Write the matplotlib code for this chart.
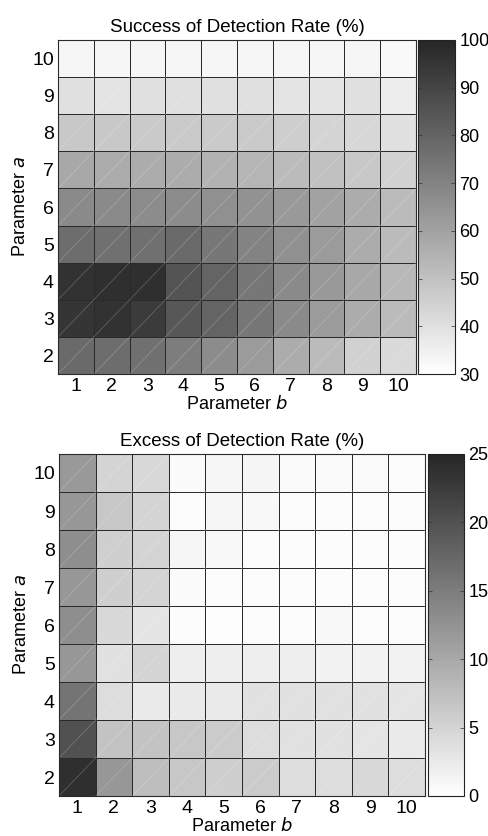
import numpy as np
import matplotlib
matplotlib.use("Agg")
import matplotlib.pyplot as plt
from matplotlib.colors import LinearSegmentedColormap

plt.rcParams['font.family'] = ['Liberation Sans', 'DejaVu Sans']

b_vals = [1, 2, 3, 4, 5, 6, 7, 8, 9, 10]
a_vals = [2, 3, 4, 5, 6, 7, 8, 9, 10]

# rows: a = 2 .. 10, columns: b = 1 .. 10
success = [
    [78, 77, 76, 72, 67, 62, 57, 52, 45, 42],   # a=2
    [95, 96, 93, 84, 80, 74, 68, 62, 57, 52],   # a=3
    [96, 97, 97, 85, 80, 74, 68, 63, 58, 53],   # a=4
    [77, 76, 76, 78, 74, 70, 66, 62, 57, 52],   # a=5
    [68, 68, 67, 67, 66, 65, 63, 60, 57, 52],   # a=6
    [58, 57, 57, 57, 55, 54, 52, 50, 48, 45],   # a=7
    [48, 48, 47, 47, 47, 47, 46, 44, 43, 40],   # a=8
    [40, 39, 40, 40, 40, 40, 39, 39, 40, 36],   # a=9
    [33, 33, 33, 33, 33, 33, 33, 33, 33, 32],   # a=10
]
excess = [
    [24.0, 12.0, 7.5, 6.5, 5.5, 6.0, 4.0, 4.0, 4.5, 4.0],  # a=2
    [20.0, 7.0, 7.0, 6.5, 6.0, 4.0, 3.5, 3.5, 3.0, 2.5],   # a=3
    [16.0, 4.0, 2.5, 2.5, 2.5, 3.5, 3.5, 3.5, 3.5, 3.0],   # a=4
    [12.0, 3.5, 5.0, 2.0, 2.0, 2.0, 2.0, 1.5, 1.5, 1.5],   # a=5
    [13.0, 4.5, 3.0, 0.3, 0.2, 0.3, 0.3, 0.8, 0.3, 0.3],   # a=6
    [12.0, 5.5, 5.0, 0.5, 0.3, 0.3, 0.3, 0.3, 0.3, 0.3],   # a=7
    [13.0, 5.5, 5.0, 1.0, 0.8, 0.3, 0.3, 0.3, 0.3, 0.3],   # a=8
    [12.0, 6.5, 5.0, 0.3, 1.0, 0.8, 0.3, 0.3, 0.4, 0.3],   # a=9
    [11.8, 4.9, 4.5, 0.5, 1.0, 1.2, 0.6, 0.6, 0.6, 0.3],   # a=10
]

cmap = LinearSegmentedColormap.from_list('g', ['#ffffff', '#262626'])

fig = plt.figure(figsize=(4.89, 8.36), dpi=100)
W, H = 489, 836


def panel(box, cbox, data, vmin, vmax, cticks, title):
    l, t, r, bt = box
    ax = fig.add_axes([l / W, 1 - bt / H, (r - l) / W, (bt - t) / H])
    xe = np.arange(len(b_vals) + 1) + 0.5
    ye = np.arange(len(a_vals) + 1) + 1.5
    arr = np.array(data)
    m = ax.pcolormesh(xe, ye, arr, cmap=cmap, vmin=vmin, vmax=vmax,
                      edgecolors='#2a2a2a', linewidth=0.6)
    # faint diagonal rendering artifacts inside cells
    for i in range(len(a_vals)):
        for j in range(len(b_vals)):
            ax.plot([xe[j], xe[j + 1]], [ye[i], ye[i + 1]], color='white',
                    lw=0.5, alpha=0.25)
    ax.set_xlim(xe[0], xe[-1])
    ax.set_ylim(ye[0], ye[-1])
    ax.set_xticks(b_vals)
    ax.set_yticks(a_vals)
    ax.tick_params(length=0, labelsize=14, pad=3)
    for s in ax.spines.values():
        s.set_color('#2a2a2a')
        s.set_linewidth(0.8)
    ax.set_xlabel('Parameter $\\it{b}$', fontsize=13, labelpad=0)
    ax.set_ylabel('Parameter $\\it{a}$', fontsize=13, labelpad=2)
    ax.set_title(title, fontsize=13.5, pad=6)
    cl, ct, cr, cb = cbox
    cax = fig.add_axes([cl / W, 1 - cb / H, (cr - cl) / W, (cb - ct) / H])
    cbar = fig.colorbar(m, cax=cax, ticks=cticks)
    cbar.outline.set_linewidth(0.8)
    cbar.outline.set_edgecolor('#222222')
    cax.tick_params(labelsize=13, direction='in', length=3, width=0.5,
                    pad=3, left=True, right=True, color='#333333')
    return ax


panel((58, 40, 416, 374), (418, 40, 455, 374), success, 30, 100,
      [30, 40, 50, 60, 70, 80, 90, 100], 'Success of Detection Rate (%)')
panel((59, 454, 425, 796), (428, 454, 464, 796), excess, 0, 25,
      [0, 5, 10, 15, 20, 25], 'Excess of Detection Rate (%)')

fig.savefig('out.png', dpi=100)
